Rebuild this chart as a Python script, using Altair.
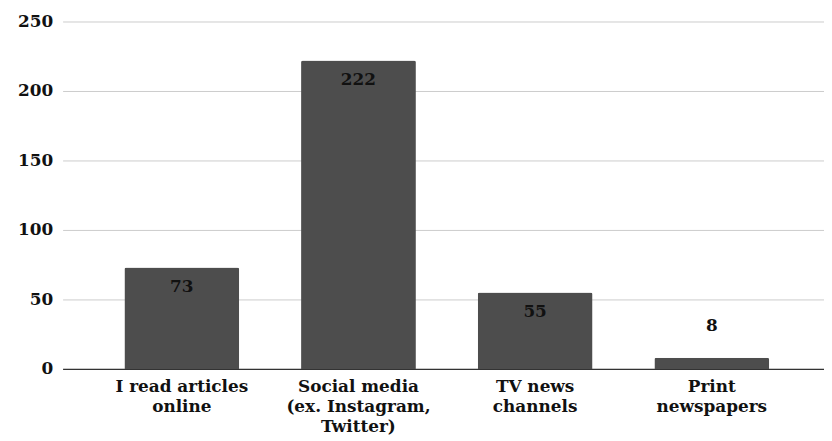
import json
import altair as alt
import pandas as pd

categories = ["I read articles online", "Social media (ex. Instagram, Twitter)", "TV news channels", "Print newspapers"]
label_lines = [["I read articles", "online"], ["Social media", "(ex. Instagram,", "Twitter)"], ["TV news", "channels"], ["Print", "newspapers"]]
values = [73, 222, 55, 8]
y_ticks = [0, 50, 100, 150, 200, 250]

df = pd.DataFrame({"category": categories, "value": values})
wrap = dict(zip(categories, label_lines))
FONT = "DejaVu Serif"

x = alt.X("category:N", sort=categories, title=None,
          scale=alt.Scale(paddingInner=0.35, paddingOuter=0.33, align=0.53),
          axis=alt.Axis(labelAngle=0, labelExpr=f"{json.dumps(wrap)}[datum.label]",
                        labelFont=FONT, labelFontWeight="bold", labelFontSize=17,
                        labelColor="#111", labelLineHeight=20, labelPadding=10,
                        ticks=False, domainColor="#333", domainWidth=1.2, grid=False))
y = alt.Y("value:Q", title=None,
          scale=alt.Scale(domain=[0, 250], nice=False),
          axis=alt.Axis(values=y_ticks, labelFont=FONT, labelFontWeight="bold", labelFontSize=17,
                        labelColor="#111", labelPadding=10, ticks=False, domain=False,
                        gridColor="#cccccc", gridWidth=1))

xt = alt.X("category:N", sort=categories)
yt = alt.Y("value:Q")

base = alt.Chart(df)
bars = base.mark_bar(color="#4d4d4d", cornerRadiusTopLeft=2, cornerRadiusTopRight=2).encode(x=x, y=y)
inside = base.transform_filter("datum.value >= 20").mark_text(
    font=FONT, fontWeight="bold", fontSize=17, color="#111", baseline="middle", dy=20
).encode(x=xt, y=yt, text="value:Q")
above = base.transform_filter("datum.value < 20").mark_text(
    font=FONT, fontWeight="bold", fontSize=17, color="#111", baseline="middle", dy=-32
).encode(x=xt, y=yt, text="value:Q")

chart = (bars + inside + above).properties(
    width=767, height=350,
    autosize=alt.AutoSizeParams(type="none"),
    padding={"left": 55, "top": 12, "right": 0, "bottom": 70},
).configure(background="white").configure_view(strokeWidth=0)

chart.save("out.html", embed_options={"renderer": "svg", "actions": False})
